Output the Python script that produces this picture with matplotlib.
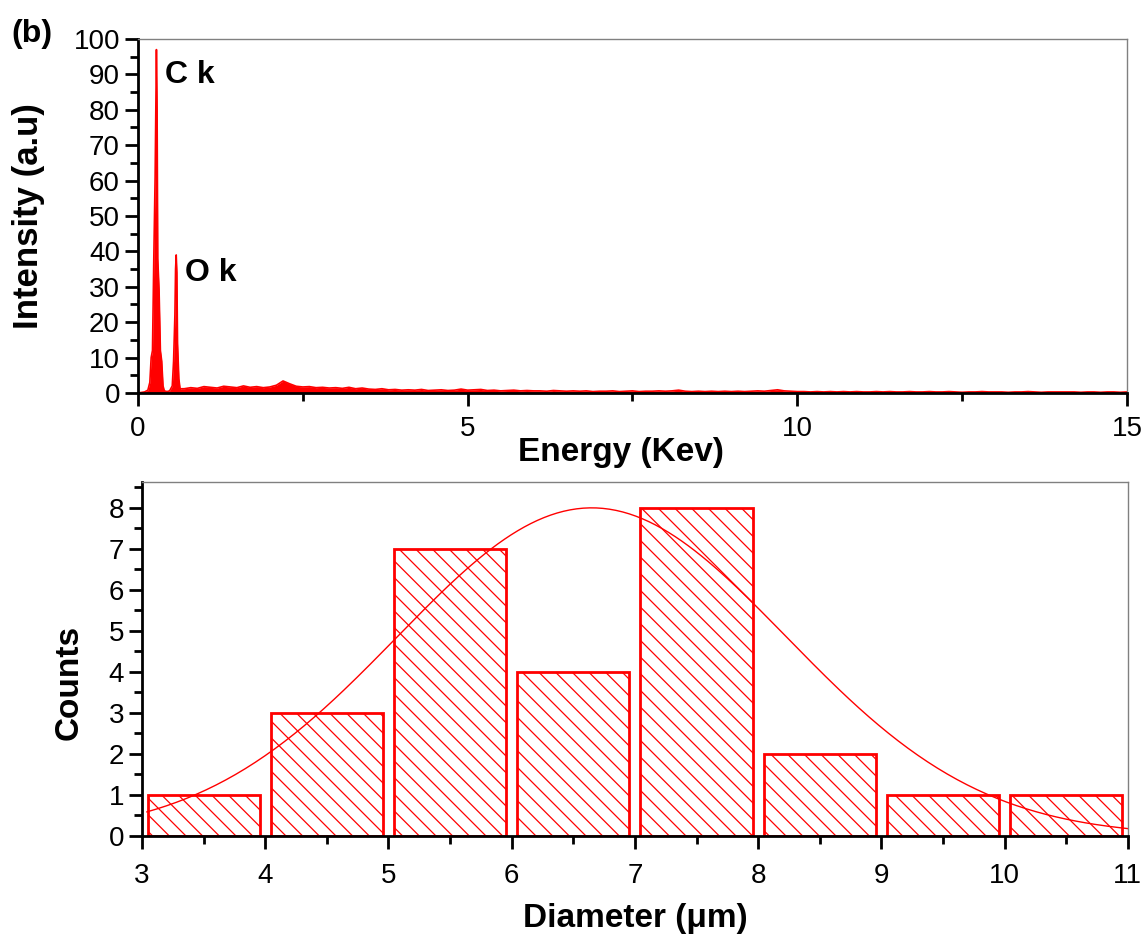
import numpy as np
import matplotlib
matplotlib.use('Agg')
import matplotlib.pyplot as plt
from matplotlib.ticker import MultipleLocator

plt.rcParams['font.family'] = ['Liberation Sans', 'DejaVu Sans']
plt.rcParams['hatch.color'] = 'red'
plt.rcParams['hatch.linewidth'] = 0.9

RED = '#ff0000'

# EDS spectrum: peak region (keV, a.u.)
peak_energy = [0.0, 0.1, 0.15, 0.18, 0.2, 0.22, 0.24, 0.26, 0.27, 0.28, 0.29, 0.30,
               0.32, 0.34, 0.36, 0.38, 0.40, 0.44, 0.48, 0.52, 0.54, 0.56, 0.57,
               0.58, 0.59, 0.60, 0.62, 0.64, 0.66]
peak_counts = [0.0, 0.3, 0.8, 3.0, 10.0, 12.0, 38.0, 61.0, 80.0, 97.0, 80.0, 38.0,
               29.0, 12.0, 9.0, 2.0, 0.6, 0.4, 0.6, 2.0, 9.0, 22.0, 35.0,
               39.0, 34.0, 14.0, 4.0, 1.0, 1.2]

# background, 0.1 keV steps from 0.7 to 15.0 keV
bg_start, bg_step = 0.7, 0.1
bg_counts = [
    1.2, 1.5, 1.3, 1.8,
    1.6, 1.4, 1.9, 1.7, 1.5, 2.0, 1.6, 1.8, 1.5, 1.7,
    2.2, 3.4, 2.6, 1.9, 1.7, 1.8, 1.5, 1.6, 1.4, 1.5,
    1.3, 1.6, 1.2, 1.4, 1.1, 1.0, 1.2, 0.9, 1.0, 0.8,
    0.9, 0.8, 1.0, 0.7, 0.8, 0.9, 0.7, 0.8, 1.1, 0.8,
    0.9, 1.0, 0.7, 0.8, 0.6, 0.7, 0.8, 0.6, 0.7, 0.6,
    0.6, 0.5, 0.7, 0.6, 0.5, 0.6, 0.5, 0.6, 0.4, 0.5,
    0.5, 0.6, 0.4, 0.5, 0.6, 0.4, 0.5, 0.5, 0.6, 0.5,
    0.6, 0.8, 0.5, 0.4, 0.5, 0.4, 0.5, 0.4, 0.5, 0.4,
    0.5, 0.4, 0.5, 0.6, 0.5, 0.7, 0.9, 0.6, 0.5, 0.4,
    0.4, 0.3, 0.4, 0.3, 0.4, 0.3, 0.4, 0.3, 0.4, 0.3,
    0.3, 0.4, 0.3, 0.4, 0.3, 0.3, 0.4, 0.3, 0.3, 0.4,
    0.3, 0.3, 0.4, 0.3, 0.2, 0.3, 0.3, 0.4, 0.3, 0.3,
    0.3, 0.2, 0.3, 0.3, 0.4, 0.3, 0.2, 0.3, 0.3, 0.3,
    0.3, 0.3, 0.2, 0.3, 0.3, 0.2, 0.3, 0.3, 0.2, 0.3,
]

# size distribution histogram
bin_left = [3, 4, 5, 6, 7, 8, 9, 10]
bin_counts = [1, 3, 7, 4, 8, 2, 1, 1]
fit_center, fit_sigma, fit_amp = 6.65, 1.58, 8.0

bg_energy = bg_start + bg_step * np.arange(len(bg_counts))
energy = np.concatenate([peak_energy, bg_energy])
counts = np.concatenate([peak_counts, bg_counts])

fig = plt.figure(figsize=(11.45, 9.44), dpi=100)
ax1 = fig.add_axes([0.1205, 0.5837, 0.8638, 0.375])
ax2 = fig.add_axes([0.124, 0.1144, 0.861, 0.375])


def style(ax, xpad):
    for s in ['left', 'bottom']:
        ax.spines[s].set_linewidth(2)
        ax.spines[s].set_color('black')
    for s in ['top', 'right']:
        ax.spines[s].set_linewidth(1)
        ax.spines[s].set_color('#808080')
    ax.tick_params(which='major', direction='out', length=9.5, width=2, labelsize=20,
                   top=False, right=False)
    ax.tick_params(which='minor', direction='out', length=6, width=2,
                   top=False, right=False)
    ax.tick_params(axis='x', which='major', pad=xpad)


ax1.fill_between(energy, counts, 0, color=RED, lw=0)
ax1.plot(energy, counts, color=RED, lw=1.2)
ax1.set_xlim(0, 15)
ax1.set_ylim(0, 100)
ax1.xaxis.set_major_locator(MultipleLocator(5))
ax1.xaxis.set_minor_locator(MultipleLocator(2.5))
ax1.yaxis.set_major_locator(MultipleLocator(10))
ax1.yaxis.set_minor_locator(MultipleLocator(5))
style(ax1, 7)
ax1.set_xlabel('Energy (Kev)', fontsize=24, fontweight='bold')
ax1.set_ylabel('Intensity (a.u)', fontsize=25, fontweight='bold')
ax1.xaxis.set_label_coords(0.488, -0.125)
ax1.yaxis.set_label_coords(-0.094, 0.5)
ax1.text(0.41, 89.8, 'C k', fontsize=23, fontweight='bold', va='center')
ax1.text(0.71, 34, 'O k', fontsize=23, fontweight='bold', va='center')
fig.text(0.028, 0.964, '(b)', fontsize=23, fontweight='bold', va='center', ha='center')

centers = np.array(bin_left) + 0.5
ax2.bar(centers, bin_counts, width=0.91, facecolor='white', edgecolor=RED,
        linewidth=2, hatch='\\\\')
xs = np.linspace(3.04, 11, 300)
ax2.plot(xs, fit_amp * np.exp(-(xs - fit_center) ** 2 / (2 * fit_sigma ** 2)),
         color=RED, lw=1)
ax2.set_xlim(3, 11)
ax2.set_ylim(0, 8.63)
ax2.xaxis.set_major_locator(MultipleLocator(1))
ax2.xaxis.set_minor_locator(MultipleLocator(0.5))
ax2.yaxis.set_major_locator(MultipleLocator(1))
ax2.yaxis.set_minor_locator(MultipleLocator(0.5))
style(ax2, 10)
ax2.set_xlabel('Diameter (\u03bcm)', fontsize=24, fontweight='bold')
ax2.set_ylabel('Counts', fontsize=24, fontweight='bold')
ax2.xaxis.set_label_coords(0.5, -0.19)
ax2.yaxis.set_label_coords(-0.058, 0.435)

fig.savefig('out.png', dpi=100)
